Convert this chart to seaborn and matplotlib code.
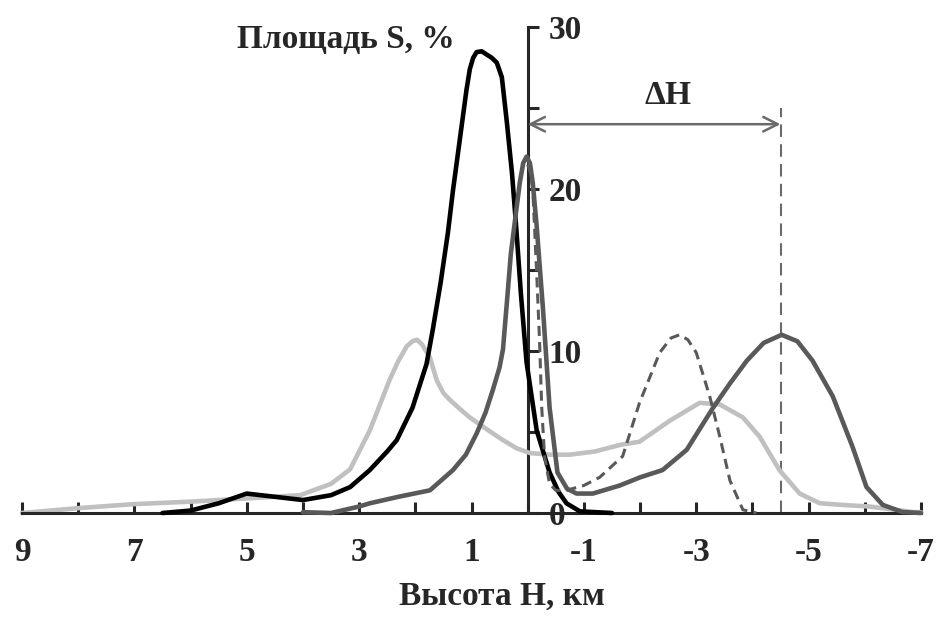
import matplotlib
matplotlib.use("Agg")
import matplotlib.pyplot as plt
from matplotlib.ticker import MultipleLocator, FixedLocator, NullFormatter
import seaborn as sns
import pandas as pd

# ---- data ----
h_black = [6.5, 6.0, 5.5, 5.0, 4.5, 4.0, 3.5, 3.16, 2.81, 2.5, 2.33, 2.05, 1.8, 1.69, 1.55,
           1.42, 1.33, 1.21, 1.09, 1.03, 0.97, 0.91, 0.82, 0.73, 0.64, 0.55, 0.46, 0.37, 0.28,
           0.21, 0.12, 0.02, -0.16, -0.39, -0.55, -0.69, -0.93, -1.5]
s_black = [0.0, 0.15, 0.6, 1.2, 1.0, 0.8, 1.1, 1.6, 2.65, 3.8, 4.5, 6.5, 9.2, 11.3, 14.2,
           17.3, 19.9, 23.0, 26.1, 27.4, 28.1, 28.45, 28.5, 28.3, 28.1, 27.8, 26.9, 24.1, 21.0,
           17.9, 13.5, 9.3, 5.1, 2.5, 1.3, 0.6, 0.1, 0.0]

h_dark = [4.0, 3.5, 3.0, 2.81, 2.3, 1.74, 1.33, 1.1, 0.91, 0.75, 0.62, 0.5, 0.44, 0.37, 0.3,
          0.21, 0.14, 0.08, 0.02, -0.04, -0.09, -0.16, -0.27, -0.39, -0.53, -0.7, -0.87, -1.16,
          -1.64, -2.0, -2.4, -2.83, -3.3, -3.6, -3.9, -4.2, -4.52, -4.8, -5.07, -5.43, -5.78,
          -6.03, -6.32, -6.67, -7.0]
s_dark = [0.05, 0.0, 0.4, 0.6, 1.0, 1.4, 2.65, 3.6, 4.9, 6.2, 7.6, 9.0, 10.1, 13.0, 16.0,
          18.5, 20.4, 21.6, 22.0, 21.6, 20.4, 17.7, 12.7, 6.5, 2.5, 1.5, 1.2, 1.2,
          1.7, 2.2, 2.65, 3.9, 6.5, 8.0, 9.4, 10.5, 11.0, 10.6, 9.4, 7.2, 4.1,
          1.6, 0.5, 0.06, 0.0]

h_light = [9.0, 8.0, 7.0, 6.0, 5.0, 4.05, 3.5, 3.16, 2.81, 2.64, 2.46, 2.3, 2.15, 2.05, 1.97,
           1.88, 1.74, 1.62, 1.5, 1.39, 1.2, 1.03, 0.7, 0.44, 0.2, -0.04, -0.4, -0.75, -1.2,
           -1.64, -1.99, -2.53, -3.06, -3.42, -3.83, -4.13, -4.48, -4.84, -5.2, -5.6, -6.08,
           -6.85, -7.0]
s_light = [0.0, 0.3, 0.55, 0.7, 0.9, 1.1, 1.8, 2.7, 5.1, 6.6, 8.2, 9.4, 10.3, 10.6, 10.7,
           10.4, 9.6, 8.2, 7.4, 7.0, 6.4, 5.9, 5.1, 4.5, 4.0, 3.7, 3.6, 3.6, 3.8,
           4.2, 4.4, 5.7, 6.8, 6.7, 5.9, 4.7, 2.65, 1.2, 0.6, 0.5, 0.4,
           0.06, 0.05]

h_dash = [0.0, -0.05, -0.09, -0.16, -0.21, -0.25, -0.3, -0.39, -0.5, -0.69, -1.0, -1.28,
          -1.69, -1.99, -2.35, -2.55, -2.7, -2.85, -3.0, -3.24, -3.42, -3.6, -3.83, -4.07]
s_dash = [21.5, 21.0, 20.0, 14.8, 10.7, 6.5, 3.5, 1.8, 1.4, 1.4, 1.7, 2.2,
          3.5, 6.8, 9.9, 10.8, 11.0, 10.7, 9.9, 7.2, 4.7, 2.0, 0.2, 0.0]

x_ticks = [9, 7, 5, 3, 1, -1, -3, -5, -7]
y_ticks = [0, 10, 20, 30]
delta_h = [0.0, -4.5]   # ends of the ΔH arrow (km)
delta_y = 24.0

# ---- figure ----
sns.set_style("ticks")
plt.rcParams['font.family'] = ['Liberation Serif', 'DejaVu Serif']
plt.rcParams['font.weight'] = 'bold'
FS = 24

fig = plt.figure(figsize=(9.41, 6.17), dpi=100)
ax = fig.add_axes([22/941, 104/617, 899/941, 486/617])

def draw(h, s, color, lw, dashes=None, z=2):
    df = pd.DataFrame({"h": h, "s": s})
    sns.lineplot(data=df, x="h", y="s", ax=ax, color=color, linewidth=lw,
                 sort=False, estimator=None, zorder=z)
    line = ax.lines[-1]
    if dashes is not None:
        line.set_dashes(dashes)
    line.set_clip_on(False)
    line.set_solid_capstyle('round')
    line.set_solid_joinstyle('round')
    line.set_dash_joinstyle('round')

draw(h_light, s_light, '#c0c0c0', 3.3, z=2)
draw(h_black, s_black, '#000000', 3.3, z=3)
draw(h_dark, s_dark, '#595959', 3.3, z=4)
draw(h_dash, s_dash, '#595959', 2.2, dashes=(3.3, 2.0), z=5)

ax.set_xlim(9, -7)
ax.set_ylim(0, 30)

# spines
ax.spines['left'].set_visible(False)
ax.spines['top'].set_visible(False)
ax.spines['right'].set_position(('data', 0))
ax.spines['right'].set_linewidth(2.2)
ax.spines['bottom'].set_linewidth(2.2)
ax.spines['right'].set_zorder(1)

ax.yaxis.tick_right()
ax.yaxis.set_major_locator(FixedLocator(y_ticks))
ax.yaxis.set_minor_locator(FixedLocator([5, 15, 25]))
ax.yaxis.set_minor_formatter(NullFormatter())
ax.set_yticklabels([str(v) for v in y_ticks])
ax.tick_params(axis='y', which='both', direction='out', length=8, width=2.2,
               labelsize=FS, pad=7, right=True, left=False)

ax.xaxis.set_major_locator(FixedLocator(x_ticks))
ax.xaxis.set_minor_locator(MultipleLocator(1))
ax.xaxis.set_minor_formatter(NullFormatter())
ax.set_xticklabels([str(v) for v in x_ticks])
ax.tick_params(axis='x', which='both', direction='in', length=8, width=2.2,
               labelsize=FS, pad=17)

ax.set_xlabel("Высота H, км", fontsize=FS, fontweight='bold')
ax.xaxis.set_label_coords((502 - 22) / 899, -(581 - 513) / 486)
ax.set_ylabel("")
fig.text(455/941, 1 - 40/617, "Площадь S, %", fontsize=FS, fontweight='bold',
         ha='right', va='center')

# ΔH annotation
ax.plot([delta_h[1], delta_h[1]], [0, 25.0], color='#6a6a6a', lw=1.5,
        dashes=(6, 3.5), zorder=1)
ax.annotate("", xy=(delta_h[1], delta_y), xytext=(delta_h[0], delta_y),
            arrowprops=dict(arrowstyle='<->', color='#6a6a6a', lw=1.8,
                            mutation_scale=26, shrinkA=0, shrinkB=0))
ax.text((delta_h[0] + delta_h[1]) / 2 - 0.25, 25.8, "ΔH", fontsize=FS,
        fontweight='bold', ha='center', va='center')

fig.savefig("out.png", dpi=100)
